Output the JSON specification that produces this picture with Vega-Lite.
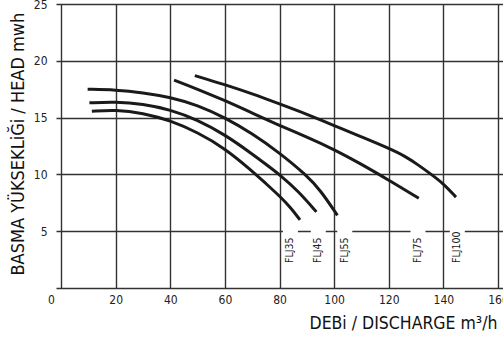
{
  "$schema": "https://vega.github.io/schema/vega-lite/v6.json",
  "autosize": "none",
  "width": 447,
  "height": 284,
  "padding": {"left": 56, "top": 4, "right": 0, "bottom": 49},
  "background": "white",
  "config": {
    "view": {"stroke": null},
    "font": "DejaVu Sans Condensed, Roboto, sans-serif"
  },
  "datasets": {
    "curves": [
      {"pump": "FLJ35", "q": 11.3, "h": 15.55},
      {"pump": "FLJ35", "q": 20, "h": 15.7},
      {"pump": "FLJ35", "q": 30, "h": 15.4},
      {"pump": "FLJ35", "q": 40, "h": 14.75},
      {"pump": "FLJ35", "q": 50, "h": 13.7},
      {"pump": "FLJ35", "q": 60, "h": 12.3},
      {"pump": "FLJ35", "q": 70, "h": 10.3},
      {"pump": "FLJ35", "q": 75, "h": 9.2},
      {"pump": "FLJ35", "q": 80, "h": 8.1},
      {"pump": "FLJ35", "q": 84, "h": 7.1},
      {"pump": "FLJ35", "q": 87.5, "h": 6.0},
      {"pump": "FLJ45", "q": 10.4, "h": 16.3},
      {"pump": "FLJ45", "q": 20, "h": 16.4},
      {"pump": "FLJ45", "q": 30, "h": 16.2},
      {"pump": "FLJ45", "q": 40, "h": 15.7},
      {"pump": "FLJ45", "q": 50, "h": 14.8},
      {"pump": "FLJ45", "q": 60, "h": 13.5},
      {"pump": "FLJ45", "q": 70, "h": 11.8},
      {"pump": "FLJ45", "q": 75, "h": 10.9},
      {"pump": "FLJ45", "q": 80, "h": 10.0},
      {"pump": "FLJ45", "q": 87, "h": 8.5},
      {"pump": "FLJ45", "q": 93.5, "h": 6.7},
      {"pump": "FLJ55", "q": 9.75, "h": 17.5},
      {"pump": "FLJ55", "q": 20, "h": 17.45},
      {"pump": "FLJ55", "q": 30, "h": 17.2},
      {"pump": "FLJ55", "q": 40, "h": 16.8},
      {"pump": "FLJ55", "q": 50, "h": 16.1},
      {"pump": "FLJ55", "q": 60, "h": 15.0},
      {"pump": "FLJ55", "q": 70, "h": 13.6},
      {"pump": "FLJ55", "q": 80, "h": 11.9},
      {"pump": "FLJ55", "q": 90, "h": 9.9},
      {"pump": "FLJ55", "q": 95, "h": 8.6},
      {"pump": "FLJ55", "q": 101.2, "h": 6.4},
      {"pump": "FLJ75", "q": 41.4, "h": 18.3},
      {"pump": "FLJ75", "q": 50, "h": 17.5},
      {"pump": "FLJ75", "q": 60, "h": 16.5},
      {"pump": "FLJ75", "q": 70, "h": 15.4},
      {"pump": "FLJ75", "q": 80, "h": 14.3},
      {"pump": "FLJ75", "q": 90, "h": 13.3},
      {"pump": "FLJ75", "q": 100, "h": 12.2},
      {"pump": "FLJ75", "q": 110, "h": 10.9},
      {"pump": "FLJ75", "q": 120, "h": 9.5},
      {"pump": "FLJ75", "q": 131, "h": 7.9},
      {"pump": "FLJ100", "q": 49, "h": 18.7},
      {"pump": "FLJ100", "q": 60, "h": 17.9},
      {"pump": "FLJ100", "q": 70, "h": 17.1},
      {"pump": "FLJ100", "q": 80, "h": 16.2},
      {"pump": "FLJ100", "q": 90, "h": 15.3},
      {"pump": "FLJ100", "q": 100, "h": 14.3},
      {"pump": "FLJ100", "q": 110, "h": 13.3},
      {"pump": "FLJ100", "q": 120, "h": 12.3},
      {"pump": "FLJ100", "q": 126, "h": 11.6},
      {"pump": "FLJ100", "q": 131, "h": 10.8},
      {"pump": "FLJ100", "q": 135, "h": 10.1},
      {"pump": "FLJ100", "q": 140, "h": 9.2},
      {"pump": "FLJ100", "q": 144.6, "h": 8.0}
    ],
    "labels": [
      {"pump": "FLJ35", "q": 84},
      {"pump": "FLJ45", "q": 94.2},
      {"pump": "FLJ55", "q": 103.9},
      {"pump": "FLJ75", "q": 130.7},
      {"pump": "FLJ100", "q": 145.1}
    ]
  },
  "layer": [
    {
      "data": {"name": "labels"},
      "mark": {"type": "bar", "width": 15, "color": "white"},
      "encoding": {
        "x": {
          "field": "q",
          "type": "quantitative",
          "scale": {"domain": [0, 160], "nice": false, "zero": false},
          "axis": {
            "values": [0, 10, 20, 30, 40, 50, 60, 70, 80, 90, 100, 110, 120, 130, 140, 150, 160],
            "labelExpr": "datum.value % 20 == 0 ? datum.label : ''",
            "labelOffset": {"condition": {"test": "datum.value == 0", "value": -10}, "value": 0},
            "grid": true,
            "gridColor": "#333333",
            "gridWidth": 1.4,
            "gridOpacity": 1,
            "domain": false,
            "ticks": false,
            "labelFontSize": 12,
            "labelColor": "#222222",
            "labelPadding": 6,
            "labelFlush": false,
            "labelOverlap": false,
            "title": "DEBi / DISCHARGE m³/h",
            "titleFontSize": 17.5,
            "titleFontWeight": "normal",
            "titleColor": "#111111",
            "titleAlign": "left",
            "titleAnchor": "start",
            "titleBaseline": "alphabetic",
            "titleX": 253,
            "titleY": 40
          }
        },
        "y": {
          "datum": 5.9,
          "type": "quantitative",
          "scale": {"domain": [0, 25], "nice": false},
          "axis": {
            "values": [0, 5, 10, 15, 20, 25],
            "labelExpr": "datum.value == 0 ? '' : datum.label",
            "grid": true,
            "gridColor": "#333333",
            "gridWidth": 1.4,
            "gridOpacity": 1,
            "domain": false,
            "ticks": false,
            "labelFontSize": 12,
            "labelColor": "#222222",
            "labelPadding": 9,
            "labelFlush": false,
            "labelOverlap": false,
            "title": "BASMA YÜKSEKLiĞi / HEAD mwh",
            "titleFontSize": 18,
            "titleFontWeight": "normal",
            "titleColor": "#111111",
            "titleAlign": "left",
            "titleAnchor": "start",
            "titleBaseline": "alphabetic",
            "titleAngle": 270,
            "titleX": -33,
            "titleY": 271
          }
        },
        "y2": {"datum": 1.0}
      }
    },
    {
      "data": {"name": "curves"},
      "mark": {"type": "line", "interpolate": "basis", "strokeWidth": 3, "color": "#1a1a1a", "strokeCap": "butt"},
      "encoding": {
        "x": {"field": "q", "type": "quantitative"},
        "y": {"field": "h", "type": "quantitative"},
        "detail": {"field": "pump"}
      }
    },
    {
      "data": {"name": "labels"},
      "mark": {"type": "text", "angle": 270, "align": "left", "baseline": "middle", "fontSize": 10.5, "color": "#222222"},
      "encoding": {
        "x": {"field": "q", "type": "quantitative"},
        "y": {"datum": 2.2, "type": "quantitative"},
        "text": {"field": "pump"}
      }
    }
  ]
}
